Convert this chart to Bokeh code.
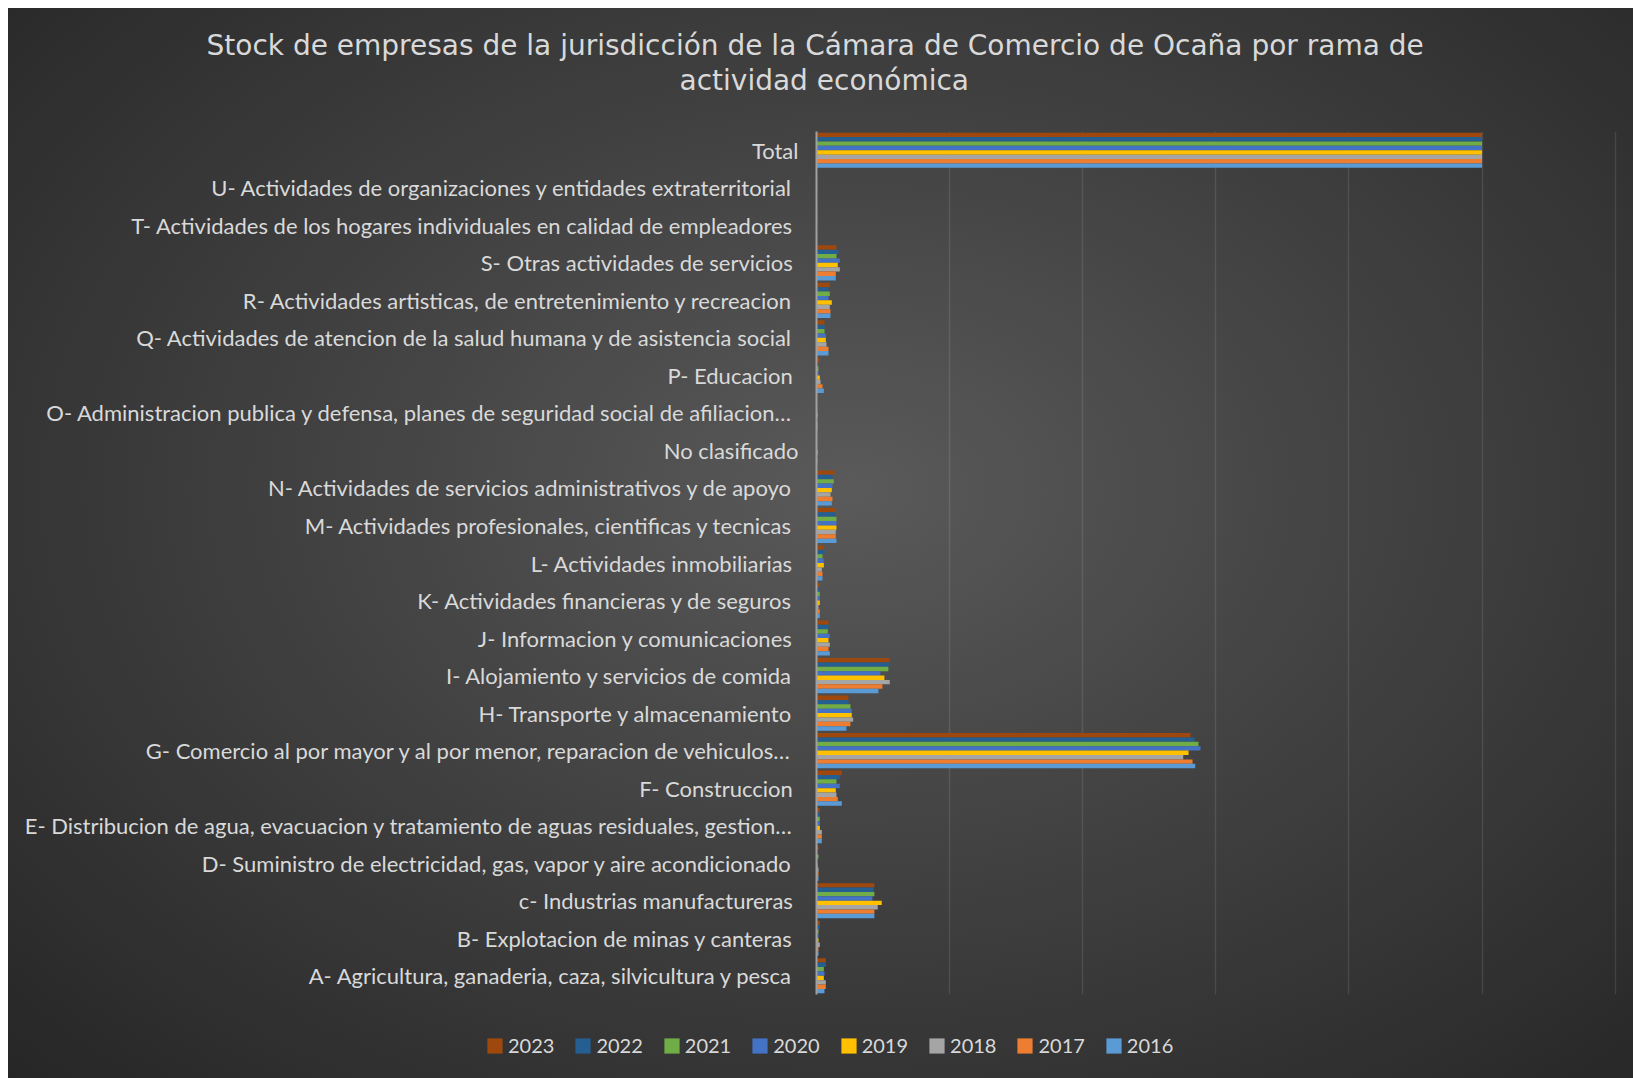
from bokeh.plotting import figure
from bokeh.layouts import column
from bokeh.models import Title, Legend, LegendItem, FactorRange, Range1d, FixedTicker, ColumnDataSource
from bokeh.transform import dodge
from bokeh.embed import file_html
from bokeh.resources import INLINE

categories = [
    "A-  Agricultura, ganaderia, caza, silvicultura y pesca",
    "B-  Explotacion de minas y canteras",
    "c-  Industrias manufactureras",
    "D-  Suministro de electricidad, gas, vapor y aire acondicionado",
    "E-  Distribucion de agua, evacuacion y tratamiento de aguas residuales, gestion\u2026",
    "F-  Construccion",
    "G-  Comercio al por mayor y al por menor, reparacion de vehiculos\u2026",
    "H-  Transporte y almacenamiento",
    "I-  Alojamiento y servicios de comida",
    "J-  Informacion y comunicaciones",
    "K-  Actividades financieras y de seguros",
    "L-  Actividades inmobiliarias",
    "M-  Actividades profesionales, cientificas y tecnicas",
    "N-  Actividades de servicios administrativos y de apoyo",
    "No clasificado",
    "O-  Administracion publica y defensa, planes de seguridad social de afiliacion\u2026",
    "P-  Educacion",
    "Q-  Actividades de atencion de la salud humana y de asistencia social",
    "R-  Actividades artisticas, de entretenimiento y recreacion",
    "S-  Otras actividades de servicios",
    "T-  Actividades de los hogares individuales en calidad de empleadores",
    "U-  Actividades de organizaciones y entidades extraterritorial",
    "Total",
]

years = ["2023", "2022", "2021", "2020", "2019", "2018", "2017", "2016"]

y2023 = [1.4, 0.5, 8.7, 0.3, 0.5, 3.8, 56.2, 4.8, 11.0, 1.8, 0.5, 1.1, 2.9, 2.7, 0, 0, 0.5, 1.2, 2.0, 3.0, 0, 0, 100]
y2022 = [1.4, 0.5, 8.6, 0.15, 0.5, 3.5, 56.8, 4.8, 11.0, 1.8, 0.5, 1.2, 2.9, 2.4, 0, 0, 0.1, 1.2, 1.8, 3.3, 0, 0, 100]
y2021 = [1.1, 0.3, 8.7, 0.3, 0.5, 3.0, 57.4, 5.1, 10.8, 1.7, 0.5, 0.9, 3.0, 2.6, 0, 0, 0.3, 1.2, 2.0, 3.0, 0, 0, 100]
y2020 = [1.2, 0.3, 8.4, 0.15, 0.5, 3.5, 57.7, 5.3, 9.6, 2.0, 0.5, 1.1, 3.0, 2.4, 0, 0.15, 0.3, 1.4, 1.8, 3.5, 0, 0, 100]
y2019 = [1.1, 0.3, 9.8, 0.15, 0.5, 2.9, 55.9, 5.3, 10.2, 1.8, 0.5, 1.1, 3.0, 2.3, 0.15, 0.15, 0.5, 1.4, 2.3, 3.2, 0, 0, 100]
y2018 = [1.4, 0.5, 9.2, 0.3, 0.8, 3.0, 55.1, 5.5, 11.0, 2.0, 0.3, 0.8, 2.9, 2.1, 0, 0, 0.6, 1.5, 2.0, 3.5, 0, 0, 100]
y2017 = [1.4, 0.3, 8.7, 0.3, 0.8, 3.2, 56.5, 5.1, 9.9, 1.8, 0.5, 0.9, 2.9, 2.4, 0.15, 0.15, 0.9, 1.8, 2.1, 2.9, 0, 0, 100]
y2016 = [1.2, 0.3, 8.7, 0.3, 0.8, 3.8, 56.9, 4.5, 9.3, 2.0, 0.5, 0.9, 3.0, 2.3, 0, 0.15, 1.1, 1.8, 2.1, 2.9, 0, 0, 100]

series = [y2023, y2022, y2021, y2020, y2019, y2018, y2017, y2016]
colors = ["#9E480E", "#255E91", "#70AD47", "#4472C4", "#FFC000", "#A5A5A5", "#ED7D31", "#5B9BD5"]

title_line1 = "Stock de empresas de la jurisdicción de la Cámara de Comercio de Ocaña por rama de"
title_line2 = "actividad económica"

x_ticks = [0, 20, 40, 60, 80, 100, 120]

data = {"cat": categories}
for yr, vals in zip(years, series):
    data["v" + yr] = vals
source = ColumnDataSource(data)

W = 1625
H_MAIN, H_LEG = 1020, 50

chart = figure(
    width=W, height=H_MAIN,
    y_range=FactorRange(factors=categories, range_padding=0),
    x_range=Range1d(0, 120.5),
    output_backend="svg", toolbar_location=None,
    min_border_left=808, min_border_right=15, min_border_top=123, min_border_bottom=34,
    background_fill_alpha=0, border_fill_alpha=0,
    frame_align=False,
)
chart.outline_line_color = None
chart.title.visible = False

bh = 0.117
for i, (yr, col) in enumerate(zip(years, colors)):
    off = (3.5 - i) * bh
    chart.hbar(y=dodge("cat", off, range=chart.y_range), right="v" + yr, left=0, height=bh,
               source=source, fill_color=col, line_color=None)

chart.xaxis.visible = False
chart.xaxis.ticker = FixedTicker(ticks=x_ticks)
chart.xgrid.ticker = FixedTicker(ticks=x_ticks)
chart.xgrid.grid_line_color = "#ffffff"
chart.xgrid.grid_line_alpha = 0.1
chart.xgrid.grid_line_width = 1.5
chart.ygrid.grid_line_color = None

ax = chart.yaxis[0]
ax.axis_line_color = "#a0a0a0"
ax.axis_line_width = 2
ax.major_tick_line_color = None
ax.minor_tick_line_color = None
ax.major_tick_out = 0
ax.major_tick_in = 0
ax.major_label_standoff = 18
ax.major_label_text_font = "Lato"
ax.major_label_text_font_size = "22px"
ax.major_label_text_color = "#d9d9d9"

spacer = Title(text=" ", text_font_size="10px", standoff=22, text_color="#d9d9d9")
t2 = Title(text=title_line2, align="left", offset=-137, standoff=0,
           text_font="DejaVu Sans", text_font_size="28px", text_font_style="normal", text_color="#d9d9d9")
t1 = Title(text=title_line1, align="left", offset=-610, standoff=0,
           text_font="DejaVu Sans", text_font_size="28px", text_font_style="normal", text_color="#d9d9d9")
chart.add_layout(spacer, "above")
chart.add_layout(t2, "above")
chart.add_layout(t1, "above")

# legend strip below the chart (legend proxies: zero-height bars kept out of view)
leg = figure(
    width=W, height=H_LEG, x_range=Range1d(0, 1), y_range=Range1d(10, 11),
    output_backend="svg", toolbar_location=None,
    min_border_left=0, min_border_right=0, min_border_top=0, min_border_bottom=0,
    background_fill_alpha=0, border_fill_alpha=0,
    frame_align=False,
)
leg.outline_line_color = None
leg.axis.visible = False
leg.grid.visible = False
leg.title.visible = False

items = []
for yr, col in zip(years, colors):
    r = leg.hbar(y=0, right="v" + yr, left=0, height=0, source=source,
                 fill_color=col, line_color=None)
    items.append(LegendItem(label=yr, renderers=[r]))

legend = Legend(items=items, orientation="horizontal", location=(477, 21),
                background_fill_alpha=0, border_line_alpha=0,
                label_text_font="Lato", label_text_font_size="20px", label_text_color="#d9d9d9",
                glyph_width=19, glyph_height=19, label_standoff=4, spacing=19, padding=0, margin=0)
leg.add_layout(legend, "center")

p = column(chart, leg, spacing=0, margin=(8, 0, 0, 8),
           styles={"background": "radial-gradient(ellipse farthest-corner at 52% 45%, #5a5a5a 0%, #444444 40%, #262626 100%)"})

open("out.html", "w").write(file_html(p, INLINE))
